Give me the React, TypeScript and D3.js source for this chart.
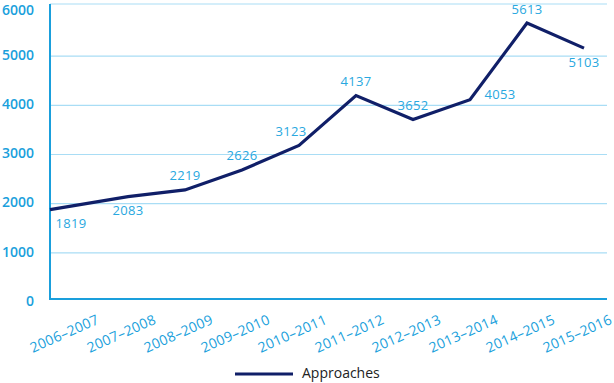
import React from "react";
import * as d3 from "d3";

const categories = [
  "2006–2007", "2007–2008", "2008–2009", "2009–2010", "2010–2011",
  "2011–2012", "2012–2013", "2013–2014", "2014–2015", "2015–2016",
];
const approaches = [1819, 2083, 2219, 2626, 3123, 4137, 3652, 4053, 5613, 5103];
const labelPlacement = ["below", "below", "above", "above", "aboveLeft", "above", "above", "right", "above", "below"];
const yTicks = [0, 1000, 2000, 3000, 4000, 5000, 6000];
const seriesName = "Approaches";

const W = 614, H = 383;
const plotLeft = 50, plotRight = 607;
const BLUE = "#1a9fdc";
const GRID = "#a9ddf5";
const LABEL = "#29a8e0";
const NAVY = "#101f68";
const FONT = "'Open Sans', sans-serif";

export default function App() {
  const x = d3.scalePoint<string>().domain(categories).range([71, 584]);
  const y = d3.scaleLinear().domain([0, 6000]).range([299, 4]);
  const gridY = (t: number) => (t === 6000 ? y(t) : y(t) + 3);

  const data = categories.map((c, i) => ({ c, v: approaches[i], i }));
  const line = d3
    .line<{ c: string; v: number; i: number }>()
    .x((d) => (d.i === 0 ? plotLeft : (x(d.c) as number)))
    .y((d) => y(d.v));

  const off: Record<string, [number, number]> = {
    above: [0, -13],
    aboveLeft: [-8, -13],
    below: [0, 15],
    right: [30, -4],
  };

  return (
    <svg width={W} height={H} style={{ position: "absolute", left: 0, top: 0, background: "#fff" }}>
      {yTicks.filter((t) => t > 0).map((t) => (
        <line key={t} x1={plotLeft} x2={plotRight} y1={gridY(t)} y2={gridY(t)} stroke={GRID} strokeWidth={1.2} />
      ))}
      <line x1={plotLeft} x2={plotLeft} y1={y(6000)} y2={y(0)} stroke={BLUE} strokeWidth={2} />
      <line x1={plotLeft - 1} x2={plotRight} y1={y(0)} y2={y(0)} stroke={BLUE} strokeWidth={2} />
      {yTicks.map((t) => (
        <text key={t} x={34} y={Math.max(y(t) + 3, 11)} textAnchor="end" dominantBaseline="middle"
          fontFamily={FONT} fontSize={14} fontWeight={600} fill={BLUE}>
          {t}
        </text>
      ))}
      {categories.map((c) => (
        <text key={c} transform={`translate(${(x(c) as number) + 29},${323}) rotate(-24)`}
          textAnchor="end" fontFamily={FONT} fontSize={14} letterSpacing={0.3} fill={BLUE}>
          {c}
        </text>
      ))}
      <path d={line(data) || ""} fill="none" stroke={NAVY} strokeWidth={3.2} strokeLinejoin="miter" />
      {data.map((d) => {
        const [dx, dy] = off[labelPlacement[d.i]];
        return (
          <text key={d.c} x={(x(d.c) as number) + dx} y={y(d.v) + dy} textAnchor="middle"
            dominantBaseline="middle" fontFamily={FONT} fontSize={13} letterSpacing={0.3} fill={LABEL}>
            {d.v}
          </text>
        );
      })}
      <line x1={235} x2={293} y1={374} y2={374} stroke={NAVY} strokeWidth={3.2} />
      <text x={302} y={374} dominantBaseline="middle" fontFamily={FONT} fontSize={14} fill="#222">
        {seriesName}
      </text>
    </svg>
  );
}
